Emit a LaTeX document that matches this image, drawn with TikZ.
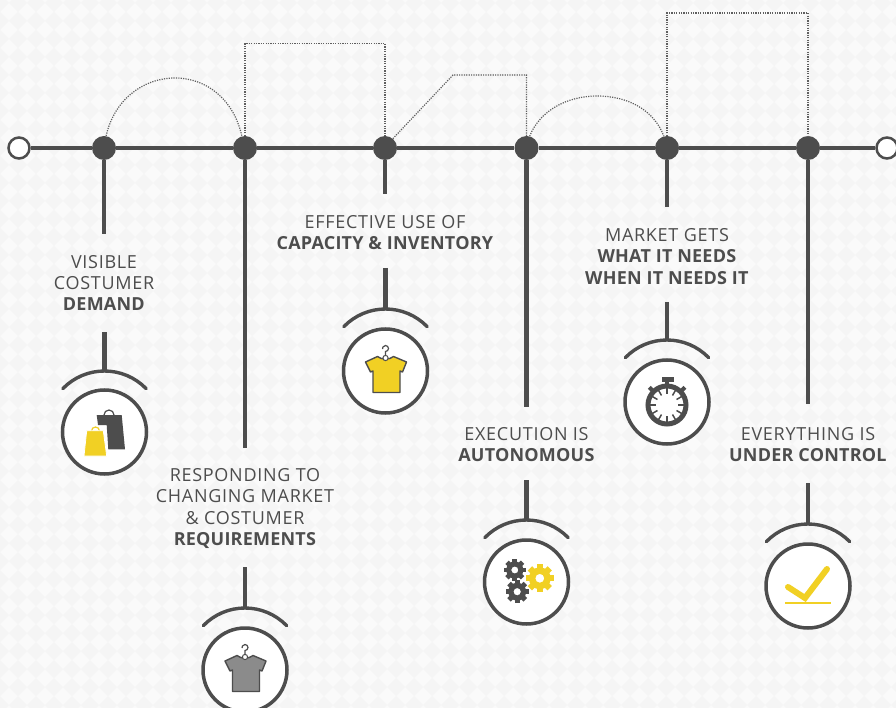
\documentclass[tikz,border=0pt]{standalone}
\usepackage{fontspec}
\setmainfont{Open Sans}[LetterSpace=4,BoldFeatures={LetterSpace=1.2}]
\definecolor{ink}{HTML}{4D4D4D}
\definecolor{gold}{HTML}{F1D024}
\definecolor{paper}{HTML}{FAFAFA}
\definecolor{weave}{HTML}{F5F5F5}
\begin{document}
\begin{tikzpicture}[x=1pt,y=-1pt,
main/.style ={draw=ink, line width=4.5pt},
hook/.style ={draw=ink, line width=3.4pt, line cap=round},
stop/.style ={circle, fill=ink, inner sep=0pt, minimum size=24pt},
terminal/.style ={circle, draw=ink, line width=2.5pt, fill=white, inner sep=0pt, minimum size=21pt},
hub/.style ={circle, draw=ink, line width=3.5pt, fill=white, inner sep=0pt, minimum size=84pt},
trace/.style ={draw=ink!90, line width=1.2pt, dash pattern=on 1.2pt off 1.2pt},
caption/.style ={text=ink, align=center, inner sep=0pt,
  font=\fontsize{18}{21.4}\selectfont},
shirt/.pic ={
  \filldraw[draw=ink, line width=1.4pt, fill=#1, line join=round]
    (-8,-14.5) -- (-20,-9) -- (-15,1) -- (-12.5,0) -- (-12.5,21.5) -- (14.5,21.5)
    -- (14.5,0) -- (17,1) -- (21,-9) -- (8,-14.5)
    .. controls (4,-11) and (-4,-11) .. (-8,-14.5) -- cycle;
  \filldraw[draw=ink, line width=1pt, fill=white] (0,-13) circle (2.6);
  \draw[ink, line width=1.2pt] (0,-15.5) -- (0,-19.5) arc (90:-190:3);
},
gear/.pic ={
  \foreach \a in {0,45,...,315}
    \fill[#1, rotate=\a] (-0.22,-1) rectangle (0.22,-0.6);
  \fill[#1, even odd rule] (0,0) circle (0.78) (0,0) circle (0.32);
}]
% background
\useasboundingbox (0,0) rectangle (896,708);
\fill[paper] (0,0) rectangle (896,708);
\foreach \i in {0,...,50}
  \foreach \j in {0,...,40}
    \fill[weave] (\i*18,\j*18-6) -- ++(9,9) -- ++(-9,9) -- ++(-9,-9) -- cycle;

% main line
\node (t0) at (19,148) [terminal] {};
\node (t1) at (887,148) [terminal] {};
\node (d1) at (104,148) [stop] {};
\node (d2) at (245,148) [stop] {};
\node (d3) at (385,148) [stop] {};
\node (d4) at (526.5,148) [stop] {};
\node (d5) at (667,148) [stop] {};
\node (d6) at (808,148) [stop] {};
\draw[main] (t0) -- (d1) -- (d2) -- (d3) -- (d4) -- (d5) -- (d6) -- (t1);

% dotted traces
\coordinate (r1) at (245,43.5);
\coordinate (r2) at (385,43.5);
\coordinate (q1) at (453,75);
\coordinate (q2) at (526.5,75);
\coordinate (s1) at (667,13);
\coordinate (s2) at (808,13);
\coordinate (top1) at (175,78);
\coordinate (top2) at (597,96);
\draw[trace] (d1.80) .. controls (114,100) and (143,78) .. (top1)
  .. controls (207,78) and (234,100) .. (d2.105);
\draw[trace] (d2) -- (r1) -- (r2) -- (d3);
\draw[trace] (d3.50) -- (q1) -- (q2) -- (d4);
\draw[trace] (d4.75) .. controls (540,110) and (568,96) .. (top2)
  .. controls (628,96) and (654,110) .. (d5.105);
\draw[trace] (d5) -- (s1) -- (s2) -- (d6);

% stems from the line
\coordinate (e1) at (104,234);
\coordinate (e2) at (245,448);
\coordinate (e3) at (385,194);
\coordinate (e4) at (526.5,407);
\coordinate (e5) at (667,207);
\coordinate (e6) at (808,404);
\draw[main] (d1) -- (e1);
\draw[main] (d2) -- (e2);
\draw[main] (d3) -- (e3);
\draw[main] (d4) -- (e4);
\draw[main] (d5) -- (e5);
\draw[main] (d6) -- (e6);

% captions
\node (c1) at (104,283) [caption] {VISIBLE\\COSTUMER\\\textbf{DEMAND}};
\node (c2) at (245,508.5) [caption] {RESPONDING TO\\CHANGING MARKET\\\& COSTUMER\\\textbf{REQUIREMENTS}};
\node (c3) at (385,232.5) [caption] {EFFECTIVE USE OF\\\textbf{CAPACITY \& INVENTORY}};
\node (c4) at (526.5,444.5) [caption] {EXECUTION IS\\\textbf{AUTONOMOUS}};
\node (c5) at (667,256.5) [caption] {MARKET GETS\\\textbf{WHAT IT NEEDS}\\\textbf{WHEN IT NEEDS IT}};
\node (c6) at (808,444.5) [caption] {EVERYTHING IS\\\textbf{UNDER CONTROL}};

% hubs
\node (h1) at (104.5,432) [hub] {};
\node (h2) at (245,670) [hub] {};
\node (h3) at (385.5,371) [hub] {};
\node (h4) at (526.5,582) [hub] {};
\node (h5) at (667,402) [hub] {};
\node (h6) at (808,586) [hub] {};

% hooks above the hubs
\coordinate (k1) at (104.5,371);
\coordinate (k2) at (245,608);
\coordinate (k3) at (385.5,309);
\coordinate (k4) at (526.5,520);
\coordinate (k5) at (667,340);
\coordinate (k6) at (808,524);
\coordinate (u1) at (104.5,332);
\coordinate (u2) at (245,567);
\coordinate (u3) at (385.5,268);
\coordinate (u4) at (526.5,480);
\coordinate (u5) at (667,302);
\coordinate (u6) at (808,483);
\draw[main] (u1) -- (k1);
\draw[main] (u2) -- (k2);
\draw[main] (u3) -- (k3);
\draw[main] (u4) -- (k4);
\draw[main] (u5) -- (k5);
\draw[main] (u6) -- (k6);
\draw[hook] (k1) arc (-90:-136:58) (k1) arc (-90:-44:58);
\draw[hook] (k2) arc (-90:-136:58) (k2) arc (-90:-44:58);
\draw[hook] (k3) arc (-90:-136:58) (k3) arc (-90:-44:58);
\draw[hook] (k4) arc (-90:-136:58) (k4) arc (-90:-44:58);
\draw[hook] (k5) arc (-90:-136:58) (k5) arc (-90:-44:58);
\draw[hook] (k6) arc (-90:-136:58) (k6) arc (-90:-44:58);

% bags
\draw[ink, line width=1.2pt] (104,415) arc (180:360:5);
\fill[ink] (96.7,415) -- (121.7,415) -- (125,449.3) -- (108.3,449.3) -- (106.7,425) -- (98,425) -- cycle;
\draw[gold, line width=1.2pt] (91.5,431) arc (180:360:4);
\filldraw[draw=white, line width=0.8pt, fill=gold] (86.7,430.7) -- (103.3,430.7) -- (106.7,456) -- (84,456) -- cycle;

% shirts
\pic at (h2) {shirt=ink!65};
\pic at (h3) {shirt=gold};

% gears
\pic[scale=11] at (514.8,570) {gear=ink};
\pic[scale=11.5] at (517.2,591.7) {gear=ink};
\pic[scale=14] at (539.8,578.3) {gear=gold};

% stopwatch
\fill[ink] (661.5,376.7) rectangle (674,382.3);
\fill[ink] (665,382) rectangle (669,387);
\draw[ink, line width=4pt] (649.3,387.3) -- (652.5,390.5);
\draw[ink, line width=4pt] (685,387.3) -- (681.8,390.5);
\filldraw[draw=ink, line width=5pt, fill=white] (667,405) circle (19);
\foreach \a in {0,30,...,330}
  \draw[ink, line width=1.5pt] (667,405) ++(\a:17) -- ++(\a:-6);

% check
\draw[gold, line width=6pt, line cap=round, line join=miter] (788,587) -- (805,598) -- (827,569);
\draw[gold, line width=2pt] (785,603) -- (831,603);
\end{tikzpicture}
\end{document}
